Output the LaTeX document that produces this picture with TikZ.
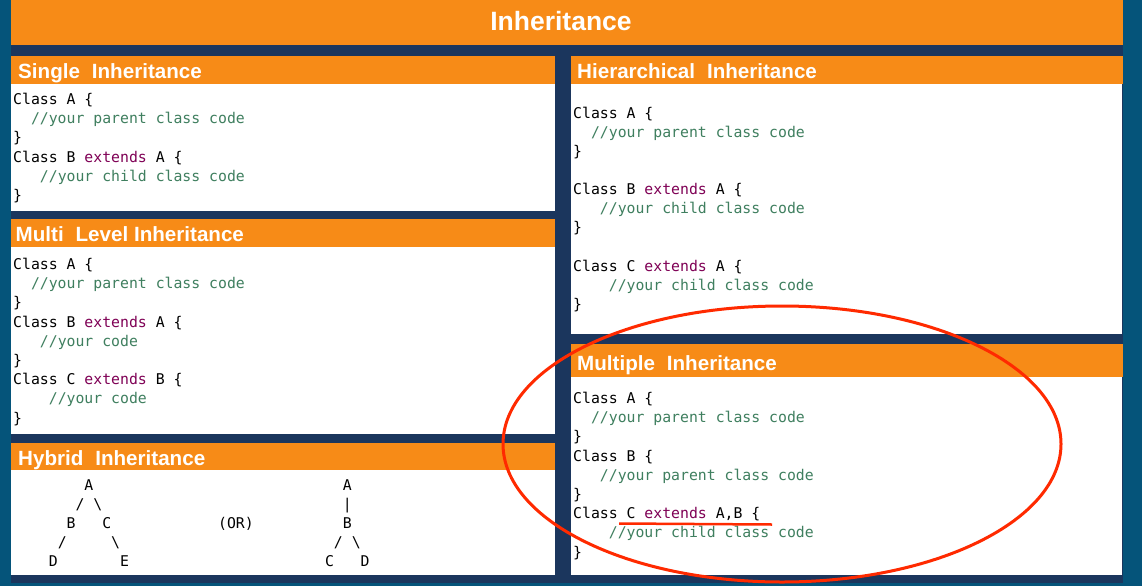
\documentclass[tikz,border=0pt]{standalone}
\usepackage{fontspec}
\setmainfont{Liberation Sans}
\newfontfamily\codefont{DejaVu Sans Mono}
\definecolor{teal0}{RGB}{5,84,122}
\definecolor{navy0}{RGB}{27,54,93}
\definecolor{orng}{RGB}{247,139,23}
\definecolor{cmtc}{RGB}{63,127,95}
\definecolor{kwc}{RGB}{127,0,85}
\definecolor{redl}{RGB}{255,42,0}
\newlength\cwd
\newcommand\kw[1]{\textcolor{kwc}{#1}}
\newcommand\cm[1]{\textcolor{cmtc}{#1}}
\newcommand\ind[1]{\hspace*{#1\cwd}}
\newcommand\gap{\hspace*{0.3em}}
\tikzset{
  code/.style={font=\codefont\fontsize{14.8}{18}\selectfont, anchor=base west, inner sep=0pt, text=black},
  head/.style={font=\bfseries\fontsize{20.6}{24}\selectfont, text=white, anchor=base west, inner sep=0pt},
  titletext/.style={font=\bfseries\fontsize{26.5}{30}\selectfont, text=white, anchor=base, inner sep=0pt},
  barfill/.style={fill=orng},
  bodyfill/.style={fill=white},
  redline/.style={draw=redl, line width=3pt},
}
\begin{document}
\settowidth{\cwd}{\codefont\fontsize{14.8}{18}\selectfont M}
\begin{tikzpicture}[x=1pt,y=-1pt]
\useasboundingbox (0,0) rectangle (1142,586);
\fill[teal0] (0,0) rectangle (1142,586);
\fill[navy0] (11,0) rectangle (1123,583);
% title
\fill[barfill] (11,0) rectangle (1123,45);
\node[titletext] (title) at (561,31) {Inheritance};
% left column panels
\fill[barfill] (11,56) rectangle (555,84);
\fill[bodyfill] (11,84) rectangle (555,211);
\fill[barfill] (11,219) rectangle (555,247);
\fill[bodyfill] (11,247) rectangle (555,434);
\fill[barfill] (11,443) rectangle (555,470);
\fill[bodyfill] (11,470) rectangle (555,575);
% right column panels
\fill[barfill] (571,56) rectangle (1123,84);
\fill[bodyfill] (571,84) rectangle (1122,334);
\fill[barfill] (571,344) rectangle (1123,377);
\fill[bodyfill] (571,377) rectangle (1122,575);
% headings
\node[head] (hsingle) at (18,78) {Single\gap{} Inheritance};
\node[head] (hmulti) at (15.5,241.5) {Multi\gap{} Level Inheritance};
\node[head] (hhybrid) at (18,465) {Hybrid\gap{} Inheritance};
\node[head] (hhier) at (577,78) {Hierarchical\gap{} Inheritance};
\node[head] (hmult) at (577,370) {Multiple\gap{} Inheritance};
% single
\node[code] (s1) at (13,104.5) {Class A \{};
\node[code] (s2) at (13,123.7) {\ind{2}\cm{//your parent class code}};
\node[code] (s3) at (13,142.9) {\}};
\node[code] (s4) at (13,162.1) {Class B \kw{extends} A \{};
\node[code] (s5) at (13,181.3) {\ind{3}\cm{//your child class code}};
\node[code] (s6) at (13,200.5) {\}};
% multi level
\node[code] (m1) at (13,269.5) {Class A \{};
\node[code] (m2) at (13,288.7) {\ind{2}\cm{//your parent class code}};
\node[code] (m3) at (13,307.9) {\}};
\node[code] (m4) at (13,327.1) {Class B \kw{extends} A \{};
\node[code] (m5) at (13,346.3) {\ind{3}\cm{//your code}};
\node[code] (m6) at (13,365.5) {\}};
\node[code] (m7) at (13,384.7) {Class C \kw{extends} B \{};
\node[code] (m8) at (13,403.9) {\ind{4}\cm{//your code}};
\node[code] (m9) at (13,423.1) {\}};
% hybrid
\node[code] (y1) at (13,490) {\ind{8}A\ind{28}A};
\node[code] (y2) at (13,509.2) {\ind{7}/\ind{1}\textbackslash\ind{27}\textbar};
\node[code] (y3) at (13,528.4) {\ind{6}B\ind{3}C\ind{12}(OR)\ind{10}B};
\node[code] (y4) at (13,547.6) {\ind{5}/\ind{5}\textbackslash\ind{24}/\ind{1}\textbackslash};
\node[code] (y5) at (13,566.8) {\ind{4}D\ind{7}E\ind{22}C\ind{3}D};
% hierarchical
\node[code] (h1) at (573,118) {Class A \{};
\node[code] (h2) at (573,137.15) {\ind{2}\cm{//your parent class code}};
\node[code] (h3) at (573,156.3) {\}};
\node[code] (h4) at (573,194.6) {Class B \kw{extends} A \{};
\node[code] (h5) at (573,213.75) {\ind{3}\cm{//your child class code}};
\node[code] (h6) at (573,232.9) {\}};
\node[code] (h7) at (573,271.2) {Class C \kw{extends} A \{};
\node[code] (h8) at (573,290.35) {\ind{4}\cm{//your child class code}};
\node[code] (h9) at (573,309.5) {\}};
% multiple
\node[code] (p1) at (573,403.5) {Class A \{};
\node[code] (p2) at (573,422.7) {\ind{2}\cm{//your parent class code}};
\node[code] (p3) at (573,441.9) {\}};
\node[code] (p4) at (573,461.1) {Class B \{};
\node[code] (p5) at (573,480.3) {\ind{3}\cm{//your parent class code}};
\node[code] (p6) at (573,499.5) {\}};
\node[code] (p7) at (573,518.7) {Class C \kw{extends} A,B \{};
\node[code] (p8) at (573,537.9) {\ind{4}\cm{//your child class code}};
\node[code] (p9) at (573,557.1) {\}};
% red highlight
\coordinate (u1) at (619,523.5);
\coordinate (u2) at (772,524.5);
\draw[draw=redl, line width=2.5pt] (u1) -- (u2);
\coordinate (ec) at (782,444);
\draw[redline] (ec) ellipse [x radius=279, y radius=138];
\end{tikzpicture}
\end{document}
